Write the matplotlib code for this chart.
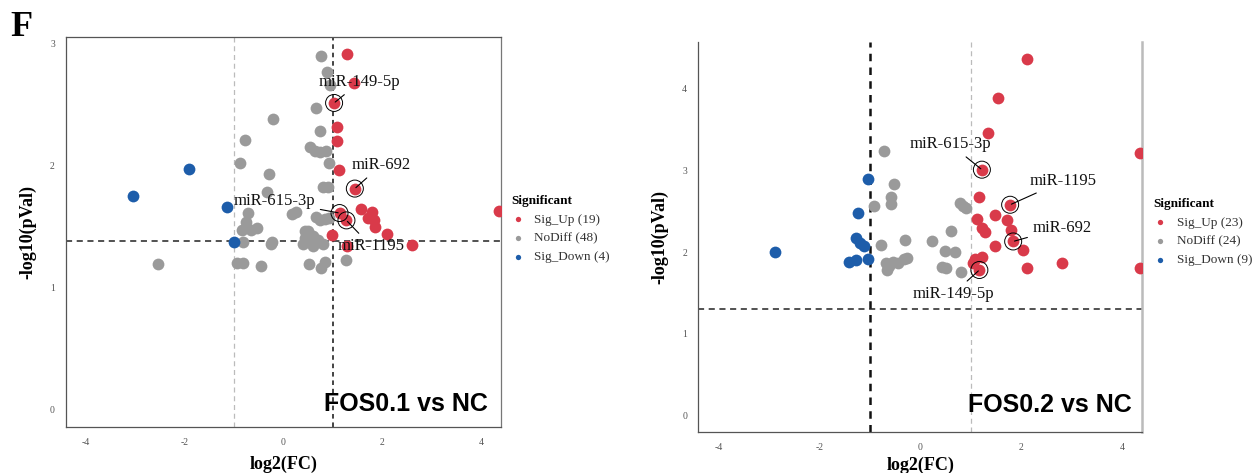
import numpy as np
import matplotlib
matplotlib.use('Agg')
import matplotlib.pyplot as plt

plt.rcParams['axes.unicode_minus'] = False

# ---------------- data: FOS0.1 vs NC ----------------
l_up_fc = [1.29, 1.43, 1.03, 1.09, 1.08, 1.13, 1.45, 1.14, 1.28, 1.58,
           1.80, 1.83, 1.85, 2.10, 2.61, 0.99, 1.29, 4.36, 1.72]
l_up_p = [2.91, 2.67, 2.51, 2.31, 2.20, 1.96, 1.81, 1.61, 1.55, 1.64,
          1.62, 1.55, 1.50, 1.44, 1.35, 1.43, 1.34, 1.63, 1.57]
l_nd_fc = [0.77, 0.88, 0.94, 0.67, -0.20, 0.74, -0.78, 0.55, 0.64, 0.74,
           0.87, 0.92, -0.87, -0.29, 0.81, -0.33, 0.25, 0.18, 0.67, 0.75,
           0.84, -0.71, -0.76, -0.83, -0.66, -0.54, -0.81, -0.22, 0.50, 0.44,
           0.54, 0.70, 0.81, 0.40, 0.60, -2.53, -0.93, -0.82, -0.44, 0.52,
           0.77, 0.85, 1.28, 0.93, 0.90, -0.24, 0.45, 0.60]
l_nd_p = [2.89, 2.76, 2.66, 2.47, 2.38, 2.28, 2.21, 2.15, 2.12, 2.11,
          2.12, 2.02, 2.02, 1.93, 1.82, 1.78, 1.62, 1.60, 1.58, 1.55,
          1.56, 1.61, 1.54, 1.47, 1.47, 1.49, 1.37, 1.37, 1.46, 1.41,
          1.38, 1.39, 1.36, 1.36, 1.34, 1.19, 1.20, 1.20, 1.18, 1.19,
          1.16, 1.21, 1.23, 1.57, 1.82, 1.36, 1.46, 1.42]
l_dn_fc = [-3.04, -1.91, -1.14, -1.00]
l_dn_p = [1.75, 1.97, 1.66, 1.37]
l_names = ['miR-149-5p', 'miR-692', 'miR-615-3p', 'miR-1195']
l_idx = [2, 6, 7, 8]

# ---------------- data: FOS0.2 vs NC ----------------
r_up_fc = [2.12, 1.53, 1.35, 4.36, 1.22, 1.17, 1.78, 1.13, 1.48, 1.71,
           1.79, 1.22, 1.28, 1.84, 2.04, 1.47, 1.22, 1.05, 1.17, 2.12,
           2.80, 4.36, 1.08]
r_up_p = [4.37, 3.89, 3.46, 3.22, 3.01, 2.67, 2.58, 2.41, 2.46, 2.39,
          2.27, 2.29, 2.24, 2.13, 2.03, 2.08, 1.94, 1.87, 1.78, 1.81,
          1.86, 1.81, 1.92]
r_nd_fc = [-0.73, -0.53, -0.58, -0.58, -0.92, -0.78, -0.31, 0.23, 0.61, 0.79,
           0.90, 0.49, 0.69, 0.42, 0.50, 0.80, -0.69, -0.66, -0.54, -0.45,
           -0.33, -0.26, 0.85, -0.62]
r_nd_p = [3.24, 2.83, 2.67, 2.59, 2.56, 2.09, 2.15, 2.13, 2.26, 2.60,
          2.54, 2.01, 2.00, 1.82, 1.80, 1.75, 1.86, 1.78, 1.88, 1.86,
          1.91, 1.93, 2.57, 1.83]
r_dn_fc = [-2.89, -1.03, -1.24, -1.28, -1.19, -1.12, -1.42, -1.28, -1.04]
r_dn_p = [2.00, 2.89, 2.48, 2.17, 2.11, 2.07, 1.88, 1.90, 1.92]
r_names = ['miR-615-3p', 'miR-1195', 'miR-692', 'miR-149-5p']
r_idx = [4, 6, 13, 18]

RED = '#D93A4A'
GREY = '#9A9A9A'
BLUE = '#1D5DAA'
SERIF = 'Liberation Serif'

fig = plt.figure(figsize=(12.56, 4.73), dpi=100)
fig.patch.set_facecolor('white')

axL = fig.add_axes([0.0525, 0.097, 0.346, 0.825])
axR = fig.add_axes([0.556, 0.086, 0.3535, 0.826])


def volcano(ax, up, nd, dn, names, idx, text_pos, ylim, yticks, title,
            thr_y, dark_x, dark_lw, light_x, title_pos, legend_pos, box_top,
            xlabelpad):
    ax.scatter(up[0], up[1], s=72, color=RED, lw=0, zorder=3,
               label=f'Sig_Up ({len(up[0])})')
    ax.scatter(nd[0], nd[1], s=72, color=GREY, lw=0, zorder=3,
               label=f'NoDiff ({len(nd[0])})')
    ax.scatter(dn[0], dn[1], s=72, color=BLUE, lw=0, zorder=3,
               label=f'Sig_Down ({len(dn[0])})')

    ax.axhline(thr_y, color='#222222', lw=1.1, ls=(0, (4, 3)), zorder=1)
    ax.axvline(dark_x, color='#111111', lw=dark_lw, ls=(0, (3, 2.5)), zorder=1)
    ax.axvline(light_x, color='#BBBBBB', lw=0.9, ls=(0, (4, 3)), zorder=1)

    for name, i, (tx, ty, ha) in zip(names, idx, text_pos):
        px, py = up[0][i], up[1][i]
        ax.scatter([px], [py], s=150, facecolors='none', edgecolors='black',
                   lw=0.7, zorder=4)
        ax.annotate(name, xy=(px, py), xytext=(tx, ty), ha=ha, va='center',
                    fontsize=12, family=SERIF, color='#111111', zorder=5,
                    arrowprops=dict(arrowstyle='-', lw=0.8, color='black',
                                    shrinkA=2, shrinkB=1))

    ax.set_xlim(-4.4, 4.4)
    ax.set_ylim(*ylim)
    ax.set_xticks([-4, -2, 0, 2, 4])
    ax.set_yticks(yticks)
    ax.tick_params(length=0, labelsize=7, labelcolor='#555555', pad=8)
    for lab in ax.get_xticklabels() + ax.get_yticklabels():
        lab.set_family(SERIF)

    ax.set_xlabel('log2(FC)', fontsize=13, family=SERIF, weight='bold',
                  labelpad=xlabelpad)
    ax.set_ylabel('-log10(pVal)', fontsize=13, family=SERIF, weight='bold',
                  labelpad=10)

    for side in ['left', 'bottom']:
        ax.spines[side].set_color('#555555')
        ax.spines[side].set_linewidth(0.9)
    if box_top:
        ax.spines['top'].set_color('#555555')
        ax.spines['top'].set_linewidth(0.9)
        ax.spines['right'].set_color('#777777')
        ax.spines['right'].set_linewidth(0.9)
    else:
        ax.spines['top'].set_visible(False)
        ax.spines['right'].set_color('#BBBBBB')
        ax.spines['right'].set_linewidth(1.8)

    ax.text(title_pos[0], title_pos[1], title, transform=ax.transAxes,
            ha='right', va='baseline', fontsize=18, weight='bold',
            family='Liberation Sans', color='black', zorder=6)

    leg = ax.legend(loc='upper left', bbox_to_anchor=legend_pos, frameon=False,
                    title='Significant', markerscale=0.45, handlelength=1.0,
                    handletextpad=0.75, labelspacing=0.5, borderaxespad=0,
                    borderpad=0,
                    prop={'family': SERIF, 'size': 9.5},
                    title_fontproperties={'family': SERIF, 'size': 9.5,
                                          'weight': 'bold'})
    leg._legend_box.align = 'left'
    for t in leg.get_texts():
        t.set_color('#333333')


volcano(axL, (l_up_fc, l_up_p), (l_nd_fc, l_nd_p), (l_dn_fc, l_dn_p),
        l_names, l_idx,
        [(1.55, 2.68, 'center'), (1.38, 2.0, 'left'),
         (0.64, 1.71, 'right'), (1.10, 1.34, 'left')],
        (-0.14, 3.05), [0, 1, 2, 3], 'FOS0.1 vs NC',
        1.38, 1.0, 1.1, -1.0, (0.97, 0.041), (1.025, 0.595), True, 6)

volcano(axR, (r_up_fc, r_up_p), (r_nd_fc, r_nd_p), (r_dn_fc, r_dn_p),
        r_names, r_idx,
        [(0.60, 3.32, 'center'), (2.16, 2.87, 'left'),
         (2.23, 2.30, 'left'), (0.65, 1.49, 'center')],
        (-0.21, 4.58), [0, 1, 2, 3, 4], 'FOS0.2 vs NC',
        1.3, -1.0, 1.8, 1.0, (0.976, 0.053), (1.025, 0.60), False, 3)

fig.text(0.008, 0.942, 'F', fontsize=26, weight='bold', family=SERIF,
         va='center', ha='left')

fig.savefig('out.png', dpi=100, facecolor='white')
